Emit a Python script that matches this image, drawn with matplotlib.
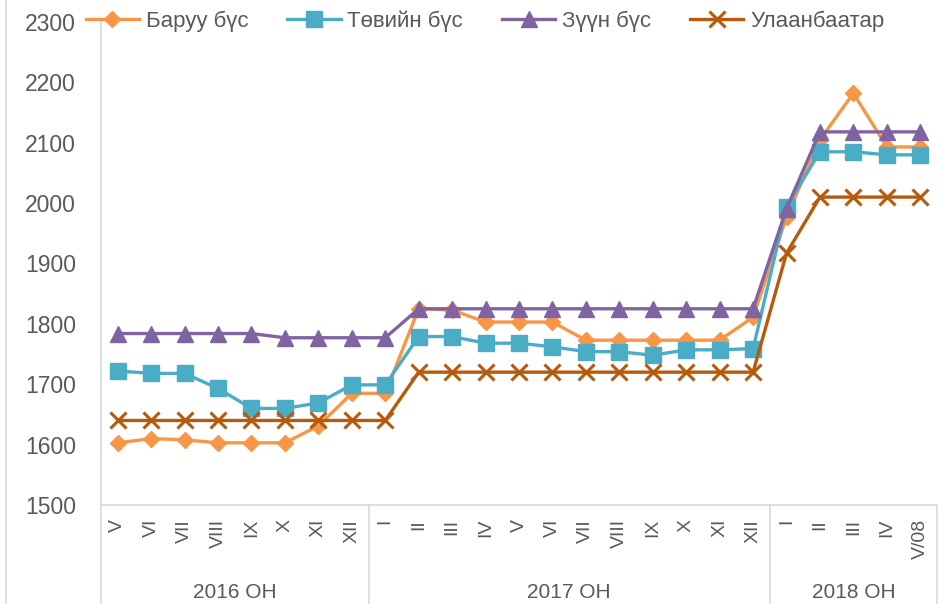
import matplotlib
matplotlib.use("Agg")
import matplotlib.pyplot as plt
from matplotlib.lines import Line2D

plt.rcParams['font.family'] = ['Liberation Sans', 'DejaVu Sans']

months = ["V", "VI", "VII", "VIII", "IX", "X", "XI", "XII",
          "I", "II", "III", "IV", "V", "VI", "VII", "VIII", "IX", "X", "XI", "XII",
          "I", "II", "III", "IV", "V/08"]
years = ["2016 OH", "2017 OH", "2018 OH"]
year_counts = [8, 12, 5]

baruun = [1603, 1610, 1608, 1603, 1603, 1603, 1631, 1685,
          1685, 1825, 1823, 1803, 1803, 1803, 1773, 1773, 1773, 1773, 1773, 1811,
          1977, 2105, 2182, 2093, 2093]
tuviin = [1722, 1718, 1718, 1693, 1660, 1660, 1669, 1699,
          1699, 1779, 1779, 1768, 1768, 1762, 1754, 1754, 1748, 1757, 1757, 1759,
          1994, 2085, 2085, 2080, 2080]
zuun = [1784, 1784, 1784, 1784, 1784, 1777, 1777, 1777,
        1777, 1825, 1825, 1825, 1825, 1825, 1825, 1825, 1825, 1825, 1825, 1825,
        1991, 2118, 2118, 2118, 2118]
ub = [1640, 1640, 1640, 1640, 1640, 1640, 1640, 1640,
      1640, 1720, 1720, 1720, 1720, 1720, 1720, 1720, 1720, 1720, 1720, 1720,
      1917, 2010, 2010, 2010, 2010]

series_names = ["Баруу бүс", "Төвийн бүс", "Зүүн бүс", "Улаанбаатар"]

fig = plt.figure(figsize=(9.53, 6.04), dpi=100)
ax = fig.add_axes([101/953, 1 - 505/604, 836/953, 483/604])

x = list(range(len(months)))
grey = "#595959"
lc = "#D9D9D9"

ax.plot(x, baruun, color="#F79646", lw=2.4, marker="D", ms=8.5, label=series_names[0])
ax.plot(x, tuviin, color="#4BACC6", lw=2.4, marker="s", ms=12, label=series_names[1])
ax.plot(x, zuun, color="#8064A2", lw=2.4, marker="^", ms=12, label=series_names[2])
ax.plot(x, ub, color="#B85A0C", lw=2.4, marker="x", ms=11, mew=2.2, label=series_names[3])

ax.set_xlim(-0.5, len(months) - 0.5)
ax.set_ylim(1500, 2300)
ax.set_yticks(range(1500, 2301, 100))
ax.tick_params(axis='y', length=0, labelsize=16.5, labelcolor=grey, pad=18)
ax.set_xticks(x)
ax.set_xticklabels(months, rotation=90, fontsize=14, color=grey)
ax.tick_params(axis='x', length=0, pad=10)

for s in ["top", "right"]:
    ax.spines[s].set_visible(False)
ax.spines["left"].set_color(lc)
ax.spines["bottom"].set_color(lc)
ax.spines["left"].set_linewidth(1.2)
ax.spines["bottom"].set_linewidth(1.2)

# multi-level category separators
trans = ax.get_xaxis_transform()
bottom_axes = -(1 - 505/604) / (483/604)
bounds = [-0.5]
acc = -0.5
for c in year_counts:
    acc += c
    bounds.append(acc)
for b in bounds:
    ax.add_line(Line2D([b, b], [0, bottom_axes], transform=trans, color=lc,
                       lw=1.2, clip_on=False))
start = -0.5
for yname, c in zip(years, year_counts):
    ax.text(start + c / 2, -0.182, yname, transform=trans, ha="center", va="center",
            fontsize=15, color=grey)
    start += c

# faint chart border at left
fig.add_artist(Line2D([6/953, 6/953], [0, 1], transform=fig.transFigure, color=lc, lw=1.2))

leg = ax.legend(loc="center", bbox_to_anchor=(485/953, 1 - 21/604),
                bbox_transform=fig.transFigure, ncol=4, frameon=False,
                fontsize=16, handlelength=2.4, handletextpad=0.3, columnspacing=1.75,
                labelcolor=grey, borderaxespad=0, borderpad=0)

fig.savefig("out.png", dpi=100)
